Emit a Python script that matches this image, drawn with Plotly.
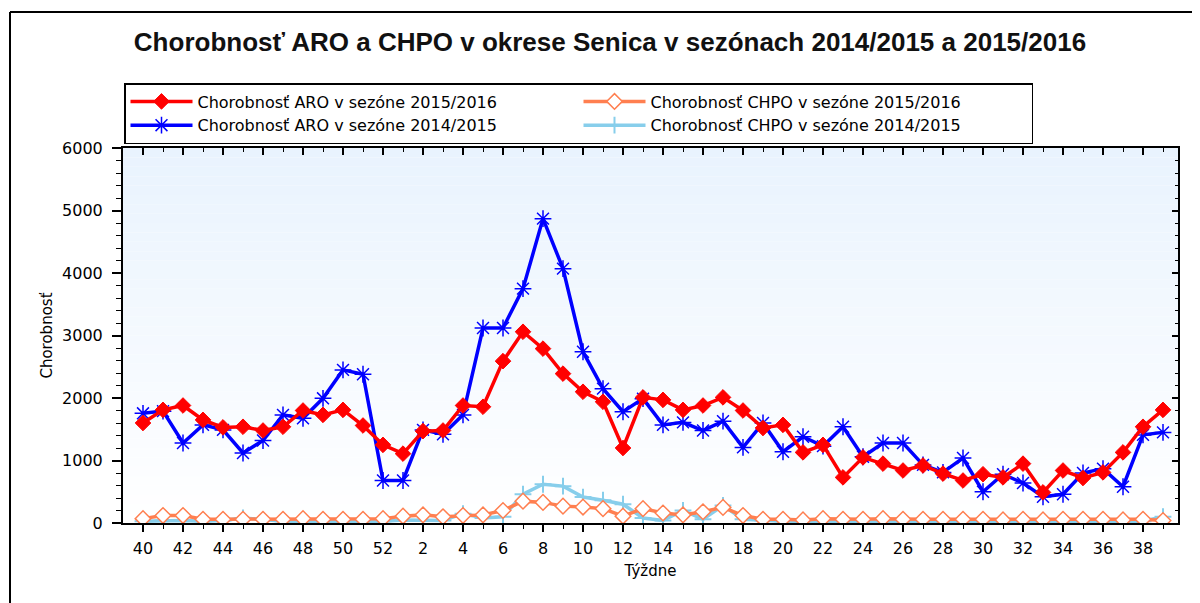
import plotly.graph_objects as go

# ---- data ----
week_labels = [str(w) for w in range(40, 53)] + [str(w) for w in range(1, 40)]

aro_2015_2016 = [1600, 1810, 1880, 1650, 1530, 1540, 1480, 1540, 1800, 1730, 1810, 1560, 1250,
                 1110, 1470, 1480, 1880, 1860, 2590, 3060, 2790, 2390, 2100, 1940, 1200, 2010,
                 1970, 1810, 1880, 2010, 1800, 1520, 1570, 1130, 1250, 730, 1050, 950, 840,
                 920, 790, 680, 780, 730, 950, 490, 840, 720, 810, 1130, 1540, 1810]

aro_2014_2015 = [1755, 1790, 1280, 1570, 1490, 1120, 1320, 1730, 1675, 1995, 2450, 2380, 680,
                 680, 1490, 1420, 1730, 3120, 3120, 3750, 4870, 4070, 2740, 2150, 1780, 1990,
                 1570, 1610, 1480, 1630, 1210, 1600, 1140, 1380, 1230, 1540, 1060, 1280, 1280,
                 930, 810, 1040, 500, 780, 640, 420, 460, 800, 870, 580, 1410, 1450]

chpo_2015_2016 = [70, 120, 120, 60, 60, 60, 60, 60, 70, 60, 60, 60, 70,
                  110, 130, 100, 120, 130, 200, 350, 330, 270, 255, 230, 110, 230,
                  160, 130, 180, 250, 120, 60, 60, 50, 70, 60, 60, 70, 60,
                  60, 60, 60, 60, 50, 60, 50, 60, 60, 60, 50, 60, 40]

chpo_2014_2015 = [30, 40, 40, 30, 40, 80, 50, 30, 30, 30, 40, 30, 30,
                  50, 40, 40, 150, 80, 100, 460, 620, 590, 415, 365, 300, 80,
                  40, 200, 60, 280, 60, 40, 30, 30, 30, 30, 30, 40, 30,
                  30, 30, 30, 30, 30, 30, 30, 30, 30, 30, 30, 30, 100]

y_ticks = [0, 1000, 2000, 3000, 4000, 5000, 6000]

x_idx = list(range(len(week_labels)))
even_idx = x_idx[::2]

fig = go.Figure()

fig.add_trace(go.Scatter(
    x=x_idx, y=chpo_2014_2015, mode="lines+markers",
    name="Chorobnosť CHPO v sezóne 2014/2015", legendrank=4,
    line=dict(color="#87CEEB", width=3.5),
    marker=dict(symbol="cross-thin-open", size=12, color="#87CEEB",
                line=dict(color="#87CEEB", width=2)),
))
fig.add_trace(go.Scatter(
    x=x_idx, y=aro_2014_2015, mode="lines+markers",
    name="Chorobnosť ARO v sezóne 2014/2015", legendrank=3,
    line=dict(color="#0000FF", width=3.5),
    marker=dict(symbol="asterisk-open", size=14, color="#0000FF",
                line=dict(color="#0000FF", width=1.5)),
))
fig.add_trace(go.Scatter(
    x=x_idx, y=chpo_2015_2016, mode="lines+markers",
    name="Chorobnosť CHPO v sezóne 2015/2016", legendrank=2,
    line=dict(color="#FF7F50", width=3.5),
    marker=dict(symbol="diamond", size=12, color="white",
                line=dict(color="#FF7F50", width=1.5)),
))
fig.add_trace(go.Scatter(
    x=x_idx, y=aro_2015_2016, mode="lines+markers",
    name="Chorobnosť ARO v sezóne 2015/2016", legendrank=1,
    line=dict(color="#FF0000", width=3.5),
    marker=dict(symbol="diamond", size=12, color="#FF0000",
                line=dict(color="#FF0000", width=1)),
))
# empty helper trace so the mirrored tick axes (top/right) get drawn
fig.add_trace(go.Scatter(x=[None], y=[None], xaxis="x2", yaxis="y2",
                         showlegend=False, hoverinfo="skip"))

# page offset (browser body margin)
OFF = 8
W, H = 1200 - OFF, 603 - OFF
L, R, T, B = 123 - OFF, 22, 148 - OFF, 80
pw, ph = W - L - R, H - T - B


def px(x_page):
    return (x_page - OFF - L) / pw


def py(y_page):
    return (H - B - (y_page - OFF)) / ph


# gradient background for plot area
shapes = []
n = 40
top = (233, 243, 254)
bot = (255, 255, 255)
for i in range(n):
    t = (i + 0.5) / n
    c = tuple(round(bot[k] + (top[k] - bot[k]) * t) for k in range(3))
    shapes.append(dict(type="rect", xref="paper", yref="paper",
                       x0=0, x1=1, y0=i / n, y1=(i + 1) / n,
                       fillcolor="rgb(%d,%d,%d)" % c, line=dict(width=0),
                       layer="below"))
# outer frame lines (top and left)
shapes.append(dict(type="line", xref="paper", yref="paper",
                   x0=px(10), x1=px(1220), y0=py(12), y1=py(12),
                   line=dict(color="black", width=2)))
shapes.append(dict(type="line", xref="paper", yref="paper",
                   x0=px(10), x1=px(10), y0=py(12), y1=py(640),
                   line=dict(color="black", width=2)))

X_RANGE = [-1, 51.75]
Y_RANGE = [0, 6000]

fig.update_layout(
    width=W, height=H,
    margin=dict(l=L, r=R, t=T, b=B, pad=0),
    paper_bgcolor="white", plot_bgcolor="rgba(0,0,0,0)",
    shapes=shapes,
    title=dict(text="<b>Chorobnosť ARO a CHPO v okrese Senica v sezónach 2014/2015 a 2015/2016</b>",
               xref="container", x=(610 - OFF) / W, xanchor="center",
               yref="container", y=1 - (42 - OFF) / H, yanchor="middle",
               font=dict(family="Liberation Sans, Arial", size=26, color="#111111")),
    legend=dict(orientation="h", x=px(124), xanchor="left", y=py(83), yanchor="top",
                bgcolor="white", bordercolor="black", borderwidth=1.5,
                itemwidth=62, entrywidth=376, entrywidthmode="pixels",
                font=dict(family="DejaVu Sans", size=16, color="black"),
                traceorder="normal", tracegroupgap=0),
    font=dict(family="DejaVu Sans", size=16, color="black"),
    showlegend=True,
    xaxis=dict(
        range=X_RANGE, tickmode="array", tickvals=even_idx,
        ticktext=[week_labels[i] for i in even_idx],
        ticks="outside", ticklen=7, tickwidth=2, tickcolor="black",
        minor=dict(tickvals=x_idx, ticks="outside", ticklen=4, tickcolor="black", tickwidth=1),
        showline=True, linecolor="black", linewidth=2, mirror=True,
        showgrid=False, zeroline=False,
        tickfont=dict(family="DejaVu Sans", size=16),
        ticklabelstandoff=3,
        title=dict(text="Týždne", font=dict(family="DejaVu Sans", size=15), standoff=8),
    ),
    yaxis=dict(
        range=Y_RANGE, tickmode="array", tickvals=y_ticks,
        ticks="outside", ticklen=9, tickwidth=2, tickcolor="black",
        minor=dict(dtick=200, ticks="outside", ticklen=5, tickcolor="black", tickwidth=1),
        showline=True, linecolor="black", linewidth=2, mirror=True,
        showgrid=False, zeroline=False,
        tickfont=dict(family="DejaVu Sans", size=16),
        ticklabelstandoff=6,
        title=dict(text="Chorobnosť", font=dict(family="DejaVu Sans", size=15), standoff=6),
    ),
    xaxis2=dict(overlaying="x", side="top", range=X_RANGE, tickmode="array",
                tickvals=even_idx, showticklabels=False, ticks="inside", ticklen=7,
                tickwidth=1.5, tickcolor="black", showgrid=False, zeroline=False,
                minor=dict(tickvals=x_idx, ticks="inside", ticklen=4,
                           tickcolor="black", tickwidth=1),
                anchor="y2"),
    yaxis2=dict(overlaying="y", side="right", range=Y_RANGE, tickmode="array",
                tickvals=y_ticks, showticklabels=False, ticks="inside", ticklen=6,
                tickwidth=1.5, tickcolor="black", showgrid=False, zeroline=False,
                minor=dict(dtick=200, ticks="inside", ticklen=3,
                           tickcolor="black", tickwidth=1),
                anchor="x2"),
)

fig.write_html("out.html")
